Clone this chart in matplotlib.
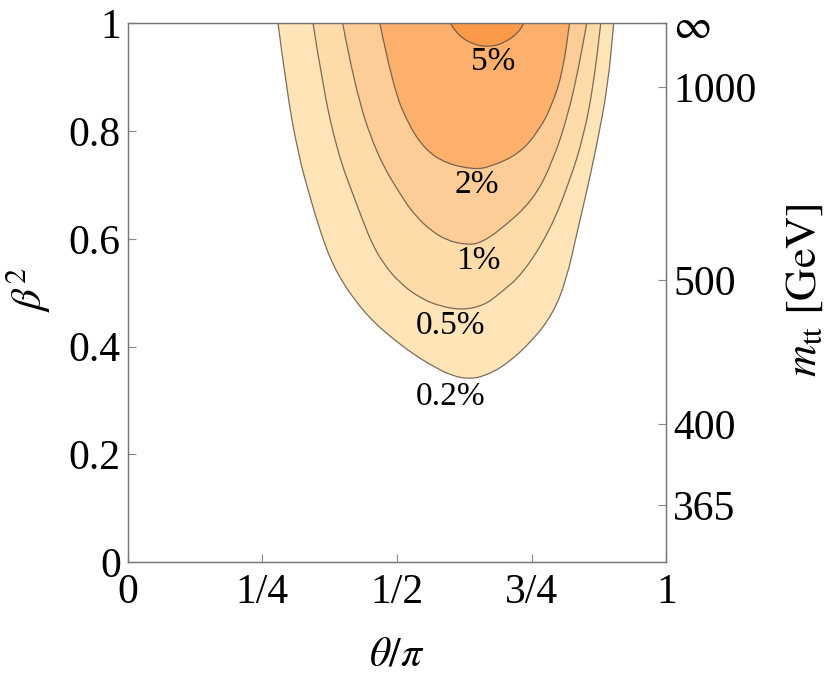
import matplotlib
matplotlib.use("Agg")
import matplotlib.pyplot as plt
from matplotlib.path import Path
from matplotlib.patches import PathPatch

# contour lines: theta/pi and beta^2
c02_theta = [0.279, 0.294, 0.316, 0.340, 0.351, 0.363, 0.377, 0.396, 0.421, 0.452,
             0.487, 0.530, 0.573, 0.603, 0.632, 0.662, 0.703, 0.752, 0.789, 0.814,
             0.835, 0.851, 0.870, 0.891, 0.902]
c02_beta2 = [1.00, 0.882, 0.758, 0.672, 0.635, 0.598, 0.561, 0.524, 0.487, 0.450,
             0.419, 0.386, 0.360, 0.346, 0.340, 0.345, 0.367, 0.412, 0.461, 0.523,
             0.616, 0.684, 0.771, 0.882, 1.00]

c05_theta = [0.344, 0.362, 0.390, 0.422, 0.436, 0.453, 0.474, 0.505, 0.543, 0.580,
             0.622, 0.662, 0.691, 0.734, 0.784, 0.821, 0.846, 0.864, 0.878]
c05_beta2 = [1.00, 0.882, 0.758, 0.672, 0.635, 0.592, 0.555, 0.518, 0.490, 0.475,
             0.468, 0.477, 0.499, 0.536, 0.616, 0.709, 0.790, 0.882, 1.00]

c1_theta = [0.399, 0.421, 0.461, 0.512, 0.536, 0.561, 0.592, 0.630, 0.654,
            0.691, 0.753, 0.790, 0.818, 0.836, 0.852]
c1_beta2 = [1.00, 0.882, 0.758, 0.672, 0.641, 0.617, 0.597, 0.589, 0.592,
            0.616, 0.672, 0.746, 0.833, 0.913, 1.00]

c2_theta = [0.468, 0.492, 0.523, 0.554, 0.591, 0.641, 0.672, 0.727, 0.764, 0.789, 0.808, 0.820]
c2_beta2 = [1.00, 0.882, 0.808, 0.764, 0.740, 0.729, 0.733, 0.758, 0.802, 0.851, 0.913, 1.00]

c5_theta = [0.599, 0.612, 0.641, 0.669, 0.696, 0.724, 0.735]
c5_beta2 = [1.00, 0.978, 0.961, 0.956, 0.962, 0.981, 1.00]

levels = ['0.2%', '0.5%', '1%', '2%', '5%']
label_theta = [0.600, 0.600, 0.651, 0.648, 0.679]
label_beta2 = [0.308, 0.439, 0.559, 0.701, 0.928]

x_ticks = [0, 0.25, 0.5, 0.75, 1]
x_ticklabels = ['0', '1/4', '1/2', '3/4', '1']
y_ticks = [0, 0.2, 0.4, 0.6, 0.8, 1]
y_ticklabels = ['0', '0.2', '0.4', '0.6', '0.8', '1']

# right axis: top pair invariant mass
mtt_ticks = [365, 400, 500, 1000]
m_top = 172.5


def smooth_path(xs, ys, close=False):
    pts = list(zip(xs, ys))
    verts = [pts[0]]
    codes = [Path.MOVETO]
    for i in range(1, len(pts) - 1):
        mid = ((pts[i][0] + pts[i + 1][0]) / 2, (pts[i][1] + pts[i + 1][1]) / 2)
        verts += [pts[i], mid]
        codes += [Path.CURVE3, Path.CURVE3]
    verts.append(pts[-1])
    codes.append(Path.LINETO)
    if close:
        verts.append(pts[0])
        codes.append(Path.CLOSEPOLY)
    return Path(verts, codes)


def main():
    plt.rcParams['font.family'] = 'serif'
    plt.rcParams['font.serif'] = ['Liberation Serif', 'DejaVu Serif']
    plt.rcParams['mathtext.fontset'] = 'stix'

    fig = plt.figure(figsize=(8.3, 6.81), dpi=100)
    ax = fig.add_axes([0.1539, 0.1743, 0.6491, 0.7915])

    curves = [(c02_theta, c02_beta2), (c05_theta, c05_beta2), (c1_theta, c1_beta2),
              (c2_theta, c2_beta2), (c5_theta, c5_beta2)]
    fills = ['#ffe4b8', '#fedcaa', '#fdcd98', '#fdb06c', '#fb9a48']

    for (th, b2), col in zip(curves, fills):
        ax.add_patch(PathPatch(smooth_path(th, b2, close=True), facecolor=col,
                               edgecolor='none', zorder=1))
    for th, b2 in curves:
        ax.add_patch(PathPatch(smooth_path(th, b2), fill=False, edgecolor='#5a4c3e',
                               linewidth=0.9, alpha=0.8, zorder=2))

    for lab, th, b2 in zip(levels, label_theta, label_beta2):
        ax.text(th, b2, lab, fontsize=24, ha='center', va='center', zorder=3)

    ax.set_xlim(0, 1)
    ax.set_ylim(0, 1)
    ax.set_xticks(x_ticks)
    ax.set_xticklabels(x_ticklabels)
    ax.set_yticks(y_ticks)
    ax.set_yticklabels(y_ticklabels)
    ax.tick_params(direction='in', length=6, width=0.8, color='#888888',
                   labelsize=30, pad=5)
    ax.tick_params(axis='x', pad=8)
    for s in ax.spines.values():
        s.set_color('#777777')
        s.set_linewidth(0.9)

    ax.set_xlabel(r'$\theta/\pi$', fontsize=30)
    ax.xaxis.label.set_va('center')
    ax.xaxis.set_label_coords(0.5, -0.172)
    ax.set_ylabel(r'$\beta^2$', fontsize=31)
    ax.yaxis.label.set_va('center')
    ax.yaxis.set_label_coords(-0.185, 0.505)

    ax2 = ax.twinx()
    ax2.set_ylim(0, 1)
    right_pos = [1 - (2 * m_top / m) ** 2 for m in mtt_ticks] + [1.0]
    ax2.set_yticks(right_pos)
    ax2.set_yticklabels([str(m) for m in mtt_ticks] + [r'$\infty$'])
    ax2.tick_params(direction='in', length=6, width=0.8, color='#888888',
                    labelsize=30, pad=5)
    for s in ax2.spines.values():
        s.set_color('#777777')
        s.set_linewidth(0.9)
    ax2.set_ylabel(r'$m_{\rm tt}\ [\rm GeV]$', fontsize=32)
    ax2.yaxis.label.set_va('center')
    ax2.yaxis.set_label_coords(1.257, 0.505)

    fig.savefig('out.png', dpi=100)


if __name__ == '__main__':
    main()
